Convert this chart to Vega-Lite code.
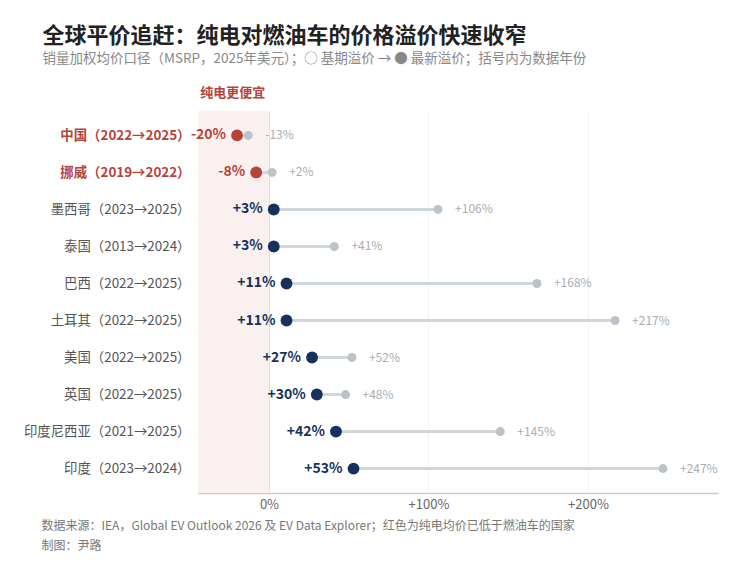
{
  "$schema": "https://vega.github.io/schema/vega-lite/v6.json",
  "width": 520,
  "height": 382,
  "padding": {"left": 23, "top": 24, "right": 30, "bottom": 6},
  "background": "white",
  "config": {
    "font": "Noto Sans CJK SC",
    "view": {"stroke": null}
  },
  "title": {
    "text": "全球平价追赶：纯电对燃油车的价格溢价快速收窄",
    "subtitle": "销量加权均价口径（MSRP，2025年美元）；○ 基期溢价 → ● 最新溢价；括号内为数据年份",
    "anchor": "start",
    "frame": "bounds",
    "dx": 19,
    "fontSize": 22,
    "fontWeight": "bold",
    "color": "#222222",
    "subtitleFontSize": 13.5,
    "subtitleColor": "#888888",
    "subtitlePadding": 4,
    "offset": 20
  },
  "datasets": {
    "rows": [
      {"country": "中国（2022→2025）", "latest": -20, "base": -13},
      {"country": "挪威（2019→2022）", "latest": -8, "base": 2},
      {"country": "墨西哥（2023→2025）", "latest": 3, "base": 106},
      {"country": "泰国（2013→2024）", "latest": 3, "base": 41},
      {"country": "巴西（2022→2025）", "latest": 11, "base": 168},
      {"country": "土耳其（2022→2025）", "latest": 11, "base": 217},
      {"country": "美国（2022→2025）", "latest": 27, "base": 52},
      {"country": "英国（2022→2025）", "latest": 30, "base": 48},
      {"country": "印度尼西亚（2021→2025）", "latest": 42, "base": 145},
      {"country": "印度（2023→2024）", "latest": 53, "base": 247}
    ],
    "band": [{"lo": -44.5, "hi": 0}]
  },
  "resolve": {"axis": {"x": "independent"}},
  "layer": [
    {
      "data": {"name": "band"},
      "mark": {"type": "rect", "color": "#f9f0ef"},
      "encoding": {
        "x": {
          "field": "lo",
          "type": "quantitative",
          "scale": {"domain": [-44.5, 281.5], "nice": false, "zero": false},
          "axis": {
            "orient": "top",
            "values": [-23],
            "labelExpr": "'纯电更便宜'",
            "labelColor": "#b5433a",
            "labelFontWeight": "bold",
            "labelFontSize": 13,
            "labelPadding": 12,
            "domain": false,
            "ticks": false,
            "grid": false,
            "title": null
          }
        },
        "x2": {"field": "hi"}
      }
    },
    {
      "data": {"name": "rows"},
      "mark": {"type": "rule", "color": "#cfd7de", "strokeWidth": 3},
      "encoding": {
        "y": {
          "field": "country",
          "type": "nominal",
          "sort": null,
          "scale": {"type": "point", "padding": 0.66},
          "axis": {
            "title": null,
            "domain": false,
            "ticks": false,
            "grid": false,
            "labelFontSize": 13.4,
            "labelPadding": 8,
            "labelColor": {
              "condition": {"test": "indexof(datum.value, '中国') === 0 || indexof(datum.value, '挪威') === 0", "value": "#b5433a"},
              "value": "#555555"
            },
            "labelFontWeight": {
              "condition": {"test": "indexof(datum.value, '中国') === 0 || indexof(datum.value, '挪威') === 0", "value": "bold"},
              "value": "normal"
            }
          }
        },
        "x": {
          "field": "latest",
          "type": "quantitative",
          "scale": {"domain": [-44.5, 281.5], "nice": false, "zero": false},
          "axis": {
            "orient": "bottom",
            "values": [0, 100, 200],
            "labelExpr": "datum.value > 0 ? '+' + datum.value + '%' : datum.value + '%'",
            "labelFontSize": 13,
            "labelColor": "#666666",
            "labelPadding": 5,
            "ticks": false,
            "domainColor": "#cccccc",
            "domainWidth": 1.5,
            "grid": true,
            "gridColor": {
              "condition": {"test": "datum.value === 0", "value": "#e0e0e0"},
              "value": "#f2f2f2"
            },
            "title": [
              "数据来源：IEA，Global EV Outlook 2026 及 EV Data Explorer；红色为纯电均价已低于燃油车的国家",
              "制图：尹路"
            ],
            "titleFontSize": 12,
            "titleFontWeight": "normal",
            "titleColor": "#777777",
            "titleAlign": "left",
            "titleBaseline": "top",
            "titleX": -157,
            "titleY": 27,
            "titleLineHeight": 20
          }
        },
        "x2": {"field": "base"}
      }
    },
    {
      "data": {"name": "rows"},
      "mark": {"type": "circle", "size": 80, "color": "#bcc2c9", "opacity": 1},
      "encoding": {
        "y": {"field": "country", "type": "nominal", "sort": null},
        "x": {"field": "base", "type": "quantitative", "axis": null}
      }
    },
    {
      "data": {"name": "rows"},
      "mark": {"type": "circle", "size": 140, "opacity": 1},
      "encoding": {
        "y": {"field": "country", "type": "nominal", "sort": null},
        "x": {"field": "latest", "type": "quantitative", "axis": null},
        "color": {
          "condition": {"test": "datum.latest < 0", "value": "#b5433a"},
          "value": "#16325c"
        }
      }
    },
    {
      "data": {"name": "rows"},
      "transform": [
        {"calculate": "(datum.latest > 0 ? '+' : '') + datum.latest + '%'", "as": "latestLabel"}
      ],
      "mark": {"type": "text", "align": "right", "dx": -11, "fontSize": 14, "fontWeight": "bold"},
      "encoding": {
        "y": {"field": "country", "type": "nominal", "sort": null},
        "x": {"field": "latest", "type": "quantitative", "axis": null},
        "text": {"field": "latestLabel"},
        "color": {
          "condition": {"test": "datum.latest < 0", "value": "#b5433a"},
          "value": "#16325c"
        }
      }
    },
    {
      "data": {"name": "rows"},
      "transform": [
        {"calculate": "(datum.base > 0 ? '+' : '') + datum.base + '%'", "as": "baseLabel"}
      ],
      "mark": {"type": "text", "align": "left", "dx": 17, "fontSize": 12, "color": "#a9adb2"},
      "encoding": {
        "y": {"field": "country", "type": "nominal", "sort": null},
        "x": {"field": "base", "type": "quantitative", "axis": null},
        "text": {"field": "baseLabel"}
      }
    }
  ]
}
